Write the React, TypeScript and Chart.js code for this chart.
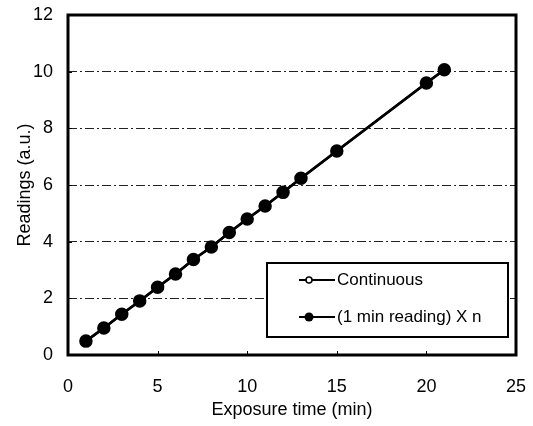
import React, { useEffect, useRef } from "react";
import { Chart, registerables } from "chart.js";

Chart.register(...registerables);

const exposureMinutes = [1, 2, 3, 4, 5, 6, 7, 8, 9, 10, 11, 12, 13, 15, 20, 21];
const continuousReadings = [0.49, 0.95, 1.44, 1.91, 2.39, 2.86, 3.37, 3.81, 4.32, 4.8, 5.26, 5.74, 6.24, 7.2, 9.6, 10.07];
const oneMinReadingsXn = [0.49, 0.95, 1.44, 1.91, 2.39, 2.86, 3.37, 3.81, 4.32, 4.8, 5.26, 5.74, 6.24, 7.2, 9.6, 10.07];
const seriesLabels = ["Continuous", "(1 min reading) X n"];
const xTickValues = [0, 5, 10, 15, 20, 25];
const yTickValues = [0, 2, 4, 6, 8, 10, 12];

const FONT = "'Liberation Sans', Arial, sans-serif";

const framePlugin = {
  id: "frameAndLegend",
  afterDraw(chart: any) {
    const { ctx, chartArea } = chart;
    const xs = chart.scales.x;
    const ys = chart.scales.y;
    ctx.save();
    // inward tick marks
    ctx.strokeStyle = "#000";
    ctx.lineWidth = 1;
    ctx.beginPath();
    xTickValues.forEach((v) => {
      const px = Math.round(xs.getPixelForValue(v)) + 0.5;
      ctx.moveTo(px, chartArea.bottom);
      ctx.lineTo(px, chartArea.bottom - 4);
    });
    yTickValues.forEach((v) => {
      const py = Math.round(ys.getPixelForValue(v)) + 0.5;
      ctx.moveTo(chartArea.left, py);
      ctx.lineTo(chartArea.left + 4, py);
    });
    ctx.stroke();
    // frame
    ctx.lineWidth = 3;
    ctx.strokeRect(chartArea.left, chartArea.top, chartArea.right - chartArea.left, chartArea.bottom - chartArea.top);

    // legend box
    const bx = chartArea.left + 199;
    const by = chartArea.top + 248;
    const bw = 241;
    const bh = 74;
    ctx.fillStyle = "#fff";
    ctx.fillRect(bx, by, bw, bh);
    ctx.lineWidth = 2;
    ctx.strokeRect(bx, by, bw, bh);
    const rows = [by + 17, by + 54];
    chart.data.datasets.forEach((ds: any, i: number) => {
      const y = rows[i];
      ctx.strokeStyle = "#000";
      ctx.lineWidth = 2;
      ctx.beginPath();
      ctx.moveTo(bx + 32, y);
      ctx.lineTo(bx + 68, y);
      ctx.stroke();
      ctx.beginPath();
      if (i === 0) {
        ctx.arc(bx + 42, y, 3, 0, Math.PI * 2);
        ctx.fillStyle = "#fff";
        ctx.fill();
        ctx.lineWidth = 1.5;
        ctx.stroke();
      } else {
        ctx.arc(bx + 42, y, 4.5, 0, Math.PI * 2);
        ctx.fillStyle = "#000";
        ctx.fill();
      }
      ctx.fillStyle = "#000";
      ctx.font = `17px ${FONT}`;
      ctx.textAlign = "left";
      ctx.textBaseline = "middle";
      ctx.fillText(ds.label, bx + 70, y);
    });
    ctx.restore();
  },
};

export default function App() {
  const ref = useRef<HTMLCanvasElement | null>(null);
  useEffect(() => {
    document.body.style.margin = "0";
    if (!ref.current) return;
    const chart = new Chart(ref.current, {
      type: "scatter",
      data: {
        datasets: [
          {
            label: seriesLabels[0],
            data: exposureMinutes.map((x, i) => ({ x, y: continuousReadings[i] })),
            showLine: true,
            borderColor: "#000",
            borderWidth: 2.5,
            pointRadius: 3,
            pointBackgroundColor: "#fff",
            pointBorderColor: "#000",
            order: 2,
          },
          {
            label: seriesLabels[1],
            data: exposureMinutes.map((x, i) => ({ x, y: oneMinReadingsXn[i] })),
            showLine: true,
            borderColor: "#000",
            borderWidth: 2.5,
            pointRadius: 5.5,
            pointBackgroundColor: "#000",
            pointBorderColor: "#000",
            order: 1,
          },
        ],
      },
      options: {
        animation: false,
        responsive: false,
        maintainAspectRatio: false,
        layout: { padding: { top: 15, right: 17, left: 0, bottom: 0 } },
        plugins: { legend: { display: false }, tooltip: { enabled: false } },
        scales: {
          x: {
            type: "linear",
            min: 0,
            max: 25,
            afterBuildTicks: (s: any) => {
              s.ticks = xTickValues.map((v) => ({ value: v }));
            },
            afterFit: (s: any) => {
              s.height = 71;
              s.paddingLeft = 0;
              s.paddingRight = 0;
            },
            grid: { display: false, drawTicks: false },
            border: { display: false },
            ticks: { color: "#000", font: { family: FONT, size: 18 }, padding: 21, maxRotation: 0 },
            title: {
              display: true,
              text: "Exposure time (min)",
              color: "#000",
              font: { family: FONT, size: 18 },
              padding: { top: 0, bottom: 5 },
            },
          },
          y: {
            type: "linear",
            min: 0,
            max: 12,
            afterBuildTicks: (s: any) => {
              s.ticks = yTickValues.map((v) => ({ value: v }));
            },
            afterFit: (s: any) => {
              s.width = 68;
              s.paddingTop = 0;
              s.paddingBottom = 0;
            },
            grid: {
              drawTicks: false,
              color: (c: any) => (c.tick && (c.tick.value === 0 || c.tick.value === 12) ? "rgba(0,0,0,0)" : "#222"),
              lineWidth: 1,
            },
            border: { display: false, dash: [9, 3, 2, 3] },
            ticks: { color: "#000", font: { family: FONT, size: 18 }, padding: 15 },
            title: {
              display: true,
              text: "Readings (a.u.)",
              color: "#000",
              font: { family: FONT, size: 18 },
              padding: { top: 14, bottom: 0 },
            },
          },
        },
      },
      plugins: [framePlugin],
    });
    return () => chart.destroy();
  }, []);
  return <canvas ref={ref} width={533} height={426} style={{ display: "block" }} />;
}
